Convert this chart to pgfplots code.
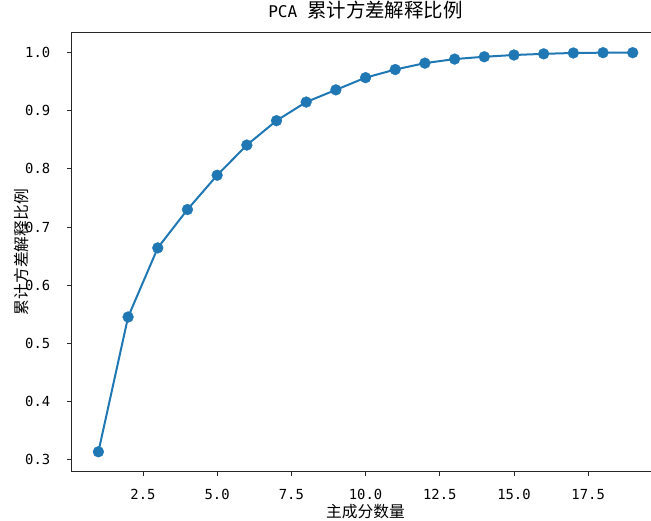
\documentclass[border=0pt]{standalone}
\usepackage{fontspec}
\usepackage{pgfplots}
\pgfplotsset{compat=1.18}
\setmainfont{DejaVu Sans Mono}
\newfontfamily\cjk{Noto Sans CJK SC}
\newfontfamily\mono{DejaVu Sans Mono}
\definecolor{mplblue}{HTML}{1F77B4}
\definecolor{spine}{HTML}{262626}

\begin{document}
\begin{tikzpicture}
\begin{axis}[
  scale only axis,
  width=440.8pt, height=329.25pt,
  xmin=0.1, xmax=19.9,
  ymin=0.2787, ymax=1.0344,
  axis line style={spine, line width=0.83pt},
  tick style={spine, line width=0.6pt},
  tick align=outside,
  major tick length=3.6pt,
  tick pos=left,
  xtick={2.5,5,7.5,10,12.5,15,17.5},
  ytick={0.3,0.4,0.5,0.6,0.7,0.8,0.9,1.0},
  /pgf/number format/assume math mode=true,
  /pgf/number format/.cd, fixed, fixed zerofill, precision=1, /pgfplots/.cd,
  ticklabel style={font=\mono\fontsize{10.4}{12}\selectfont, inner sep=0pt},
  xticklabel style={anchor=base, yshift=-17.5pt},
  yticklabel style={anchor=base east, xshift=-12.3pt, yshift=-3.8pt},
  title={{\mono\fontsize{12.1}{14}\selectfont PCA }{\cjk\fontsize{14.6}{17}\selectfont 累计方差解释比例}},
  title style={at={(axis description cs:0.5,1.0155)}, anchor=base, inner sep=0pt},
  xlabel={\cjk\fontsize{11.8}{14}\selectfont 主成分数量},
  xlabel style={at={(axis description cs:0.5,-0.1048)}, anchor=base, inner sep=0pt},
  ylabel={\cjk\fontsize{11.8}{14}\selectfont 累计方差解释比例},
  ylabel style={at={(axis description cs:-0.0749,0.5)}, anchor=base, inner sep=0pt},
]
\addplot[color=mplblue, line width=1.5pt, mark=*, mark size=4.1pt,
         mark options={solid, fill=mplblue, draw=mplblue, line width=0.2pt}]
  coordinates {
    (1,0.313) (2,0.545) (3,0.664) (4,0.730) (5,0.789)
    (6,0.841) (7,0.883) (8,0.915) (9,0.936) (10,0.957)
    (11,0.971) (12,0.982) (13,0.989) (14,0.993) (15,0.996)
    (16,0.998) (17,0.9995) (18,1.0) (19,1.0)
  };
\end{axis}
\pgfresetboundingbox
\useasboundingbox (-53.775pt,-36.975pt) rectangle (434.475pt,353.775pt);
\end{tikzpicture}
\end{document}
